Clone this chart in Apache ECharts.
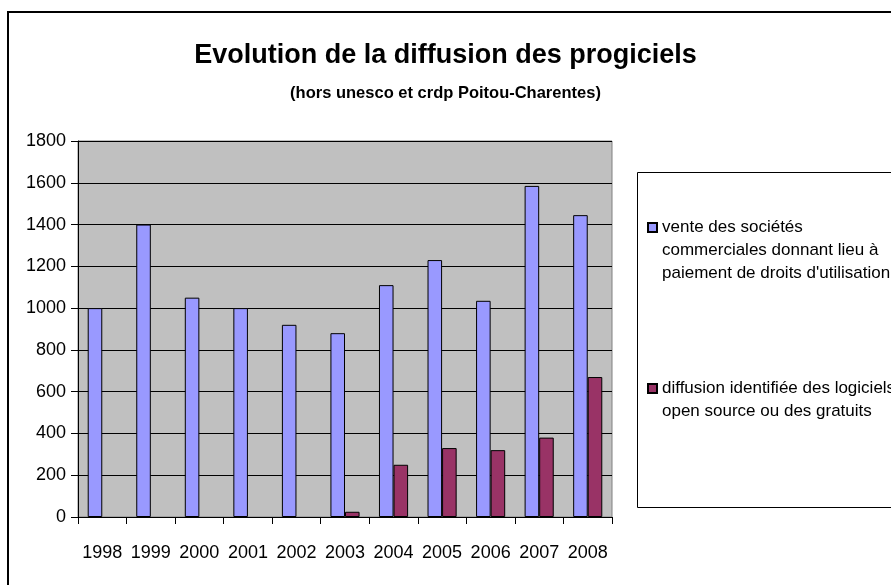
<!DOCTYPE html>
<html>
<head>
<meta charset="utf-8">
<script src="https://cdn.jsdelivr.net/npm/echarts@6/dist/echarts.min.js"></script>
<style>
  html, body { margin: 0; padding: 0; background: #fff; }
  #chart { width: 891px; height: 585px; }
</style>
</head>
<body>
<div id="chart"></div>
<script>
const years = ['1998', '1999', '2000', '2001', '2002', '2003', '2004', '2005', '2006', '2007', '2008'];
const venteCommerciale = [1000, 1400, 1050, 1000, 920, 880, 1110, 1230, 1035, 1585, 1445];
// pas de diffusion identifiee avant 2003
const diffusionLibre = [null, null, null, null, null, 25, 250, 330, 320, 380, 670];
const seriesNames = [
  "vente des sociétés commerciales donnant lieu à paiement de droits d'utilisation",
  'diffusion identifiée des logiciels open source ou des gratuits'
];
const legendLines = [
  ['vente des sociétés', 'commerciales donnant lieu à', "paiement de droits d'utilisation"],
  ['diffusion identifiée des logiciels', 'open source ou des gratuits']
];

const font = "'Liberation Sans', Arial, sans-serif";

// icone du legende alignee sur la premiere ligne : on ajoute des lignes vides au-dessus
function legendText(lines) {
  return '\n'.repeat(lines.length - 1) + lines.join('\n');
}

const option = {
  animation: false,
  backgroundColor: '#fff',
  textStyle: { fontFamily: font },
  title: [{
    text: 'Evolution de la diffusion des progiciels',
    left: 'center',
    top: 42,
    padding: [0, 0, 0, 25],
    textStyle: { fontSize: 27, fontWeight: 'bold', color: '#000', fontFamily: font }
  }, {
    text: '(hors unesco et crdp Poitou-Charentes)',
    left: 'center',
    top: 85,
    padding: [0, 0, 0, 15],
    textStyle: { fontSize: 16.5, fontWeight: 'bold', color: '#000', fontFamily: font }
  }],
  grid: {
    left: 78,
    top: 141,
    right: 279,
    bottom: 68,
    show: true,
    backgroundColor: '#C0C0C0',
    borderColor: '#808080',
    borderWidth: 1
  },
  legend: [{
    data: [seriesNames[0]],
    left: 647,
    top: 170,
    padding: 0,
    icon: 'rect',
    itemWidth: 9,
    itemHeight: 9,
    formatter: () => legendText(legendLines[0]),
    textStyle: { fontSize: 17, lineHeight: 23, color: '#000', fontFamily: font }
  }, {
    data: [seriesNames[1]],
    left: 647,
    top: 354,
    padding: 0,
    icon: 'rect',
    itemWidth: 9,
    itemHeight: 9,
    formatter: () => legendText(legendLines[1]),
    textStyle: { fontSize: 17, lineHeight: 23, color: '#000', fontFamily: font }
  }],
  graphic: [{
    type: 'rect',
    shape: { x: 8, y: 12, width: 1000, height: 700 },
    style: { fill: 'none', stroke: '#000', lineWidth: 2 },
    silent: true
  }, {
    type: 'rect',
    shape: { x: 637.5, y: 172.5, width: 400, height: 335 },
    style: { fill: 'none', stroke: '#000', lineWidth: 1 },
    silent: true
  }],
  xAxis: {
    type: 'category',
    data: years,
    axisLine: { lineStyle: { color: '#000', width: 1 } },
    axisTick: { show: true, length: 7, lineStyle: { color: '#000' } },
    axisLabel: { color: '#000', fontSize: 18, margin: 27, fontFamily: font, interval: 0 },
    splitLine: { show: false }
  },
  yAxis: {
    type: 'value',
    min: 0,
    max: 1800,
    interval: 200,
    axisLine: { show: true, lineStyle: { color: '#000', width: 1 } },
    axisTick: { show: true, length: 7, lineStyle: { color: '#000' } },
    axisLabel: { color: '#000', fontSize: 18, margin: 12, fontFamily: font, formatter: v => String(v) },
    splitLine: { show: true, lineStyle: { color: '#000', width: 1 } }
  },
  series: [{
    name: seriesNames[0],
    type: 'bar',
    data: venteCommerciale,
    barWidth: '30%',
    barGap: '0%',
    itemStyle: { color: '#9999FF', borderColor: '#000', borderWidth: 1 }
  }, {
    name: seriesNames[1],
    type: 'bar',
    data: diffusionLibre,
    barWidth: '30%',
    barGap: '0%',
    itemStyle: { color: '#993366', borderColor: '#000', borderWidth: 1 }
  }]
};

const chart = echarts.init(document.getElementById('chart'));
chart.setOption(option);
</script>
</body>
</html>
